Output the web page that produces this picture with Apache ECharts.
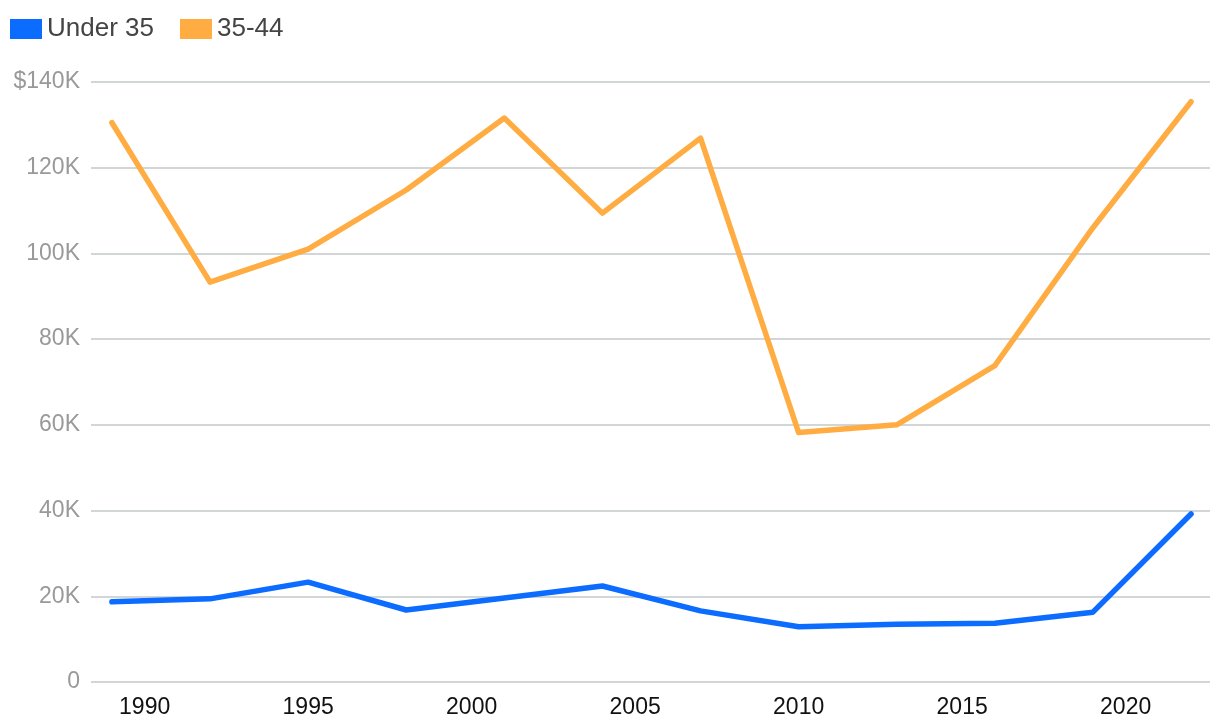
<!DOCTYPE html>
<html lang="en">
<head>
    <meta charset="UTF-8">
    <title>Median net worth by age</title>
    <script src="https://cdn.jsdelivr.net/npm/echarts@6/dist/echarts.min.js"></script>
</head>
<body style="margin:0">
    <div id="main" style="width:1220px; height:728px"></div>
    <script>
        var myChart = echarts.init(document.getElementById('main'))

        // survey years
        var years = [1989, 1992, 1995, 1998, 2001, 2004, 2007, 2010, 2013, 2016, 2019, 2022]
        // values in dollars
        var under35 = [18700, 19400, 23300, 16800, 19600, 22400, 16600, 12900, 13500, 13700, 16300, 39200]
        var age35to44 = [130500, 93300, 101000, 114800, 131600, 109400, 126900, 58200, 60000, 73800, 106000, 135400]
        var yearTicks = [1990, 1995, 2000, 2005, 2010, 2015, 2020]

        function pairs(vals) {
            return years.map(function (y, i) { return [y, vals[i]] })
        }

        var option = {
            animation: false,
            textStyle: { fontFamily: 'Liberation Sans, Arial, sans-serif' },
            legend: {
                left: 10,
                top: 16,
                padding: 0,
                itemWidth: 32,
                itemHeight: 20,
                itemGap: 26,
                icon: 'rect',
                textStyle: { fontSize: 26, color: '#444' },
                data: ['Under 35', '35-44']
            },
            grid: { left: 91, right: 10, top: 82, bottom: 46 },
            xAxis: {
                type: 'value',
                min: 1988.36,
                max: 2022.58,
                axisLine: { show: false },
                axisTick: { show: false },
                splitLine: { show: false },
                axisLabel: {
                    customValues: yearTicks,
                    fontSize: 23,
                    color: '#111',
                    margin: 14,
                    formatter: function (v) { return String(v) }
                }
            },
            yAxis: {
                type: 'value',
                min: 0,
                max: 140000,
                interval: 20000,
                axisLine: { show: false },
                axisTick: { show: false },
                splitLine: { lineStyle: { color: '#d3d6d6', width: 2 } },
                axisLabel: {
                    fontSize: 23,
                    color: '#999',
                    margin: 11,
                    formatter: function (v) {
                        if (v === 0) return '0'
                        if (v === 140000) return '$140K'
                        return v / 1000 + 'K'
                    }
                }
            },
            series: [
                {
                    name: 'Under 35',
                    type: 'line',
                    data: pairs(under35),
                    symbol: 'none',
                    color: '#0b6cff',
                    lineStyle: { width: 5.5, cap: 'round', join: 'round' }
                },
                {
                    name: '35-44',
                    type: 'line',
                    data: pairs(age35to44),
                    symbol: 'none',
                    color: '#ffad42',
                    lineStyle: { width: 5.5, cap: 'round', join: 'round' }
                }
            ]
        }

        myChart.setOption(option)
    </script>
</body>
</html>
